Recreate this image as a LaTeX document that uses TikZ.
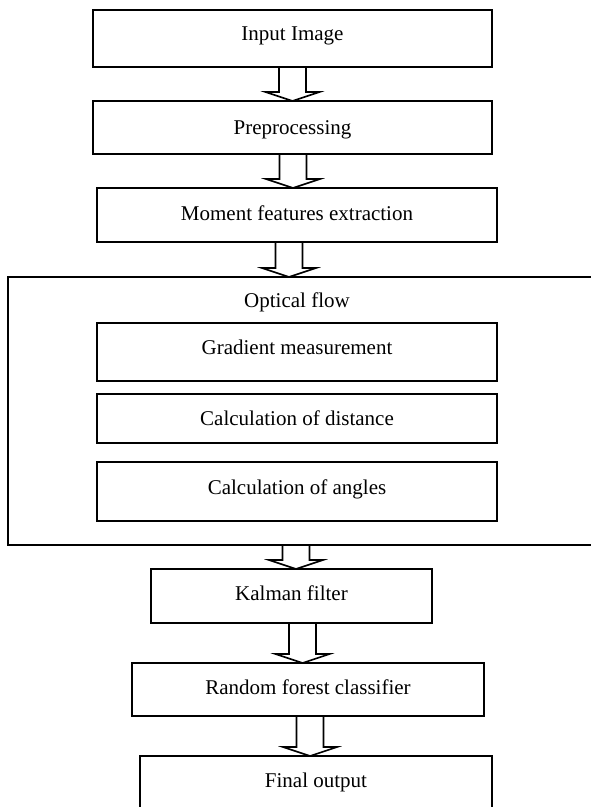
\documentclass[tikz,border=0pt]{standalone}
\usepackage{fontspec}
\setmainfont{Liberation Serif}
\usetikzlibrary{calc}

% hollow block arrow from one box down to the next, shaft centred at x (in pt)
\newcommand{\flowarrow}[3]{%
  \draw[blockarrow] let \p1=(#1.south), \p2=(#2.north) in
    ({#3pt-13.5pt},\y1) -- ({#3pt-13.5pt},{\y2+9pt}) -- ({#3pt-27pt},{\y2+9pt})
    -- (#3pt,\y2) -- ({#3pt+27pt},{\y2+9pt}) -- ({#3pt+13.5pt},{\y2+9pt})
    -- ({#3pt+13.5pt},\y1);}

\begin{document}
\begin{tikzpicture}[x=1pt, y=-1pt,
    font=\fontsize{21}{25}\selectfont,
    stepbox/.style={rectangle, draw, line width=1.6pt, inner sep=0pt, outer sep=0pt,
                    text height=15pt, text depth=#1},
    stepbox/.default=5pt,
    blockarrow/.style={line width=1.6pt, line join=miter}]
    \useasboundingbox (0,0) rectangle (590,807);

    % Top chain
    \node (input) [stepbox=11pt, minimum width=399pt, minimum height=57pt] at (292.5,38.5) {Input Image};
    \node (prep) [stepbox=2pt, minimum width=399pt, minimum height=53pt] at (292.5,127.5) {Preprocessing};
    \node (moment) [stepbox=5pt, minimum width=400pt, minimum height=54pt] at (297,215) {Moment features extraction};

    % Optical flow
    \node (optflow) [stepbox, minimum width=594pt, minimum height=268pt] at (305,411) {};
    \node (oftitle) [anchor=base] at (297,307) {Optical flow};
    \node (gradient) [stepbox=10pt, minimum width=400pt, minimum height=58pt] at (297,352) {Gradient measurement};
    \node (distance) [stepbox=1pt, minimum width=400pt, minimum height=49pt] at (297,418.5) {Calculation of distance};
    \node (angles) [stepbox=9pt, minimum width=400pt, minimum height=59pt] at (297,491.5) {Calculation of angles};

    % Bottom chain
    \node (kalman) [stepbox=6pt, minimum width=281pt, minimum height=54pt] at (291.5,596) {Kalman filter};
    \node (forest) [stepbox=6pt, minimum width=352pt, minimum height=53pt] at (308,689.5) {Random forest classifier};
    \node (final) [stepbox=16pt, minimum width=352pt, minimum height=64pt] at (316,788) {Final output};

    \flowarrow{input}{prep}{292.5}
    \flowarrow{prep}{moment}{293}
    \flowarrow{moment}{optflow}{289}
    \flowarrow{optflow}{kalman}{296}
    \flowarrow{kalman}{forest}{302.5}
    \flowarrow{forest}{final}{310}
\end{tikzpicture}
\end{document}
